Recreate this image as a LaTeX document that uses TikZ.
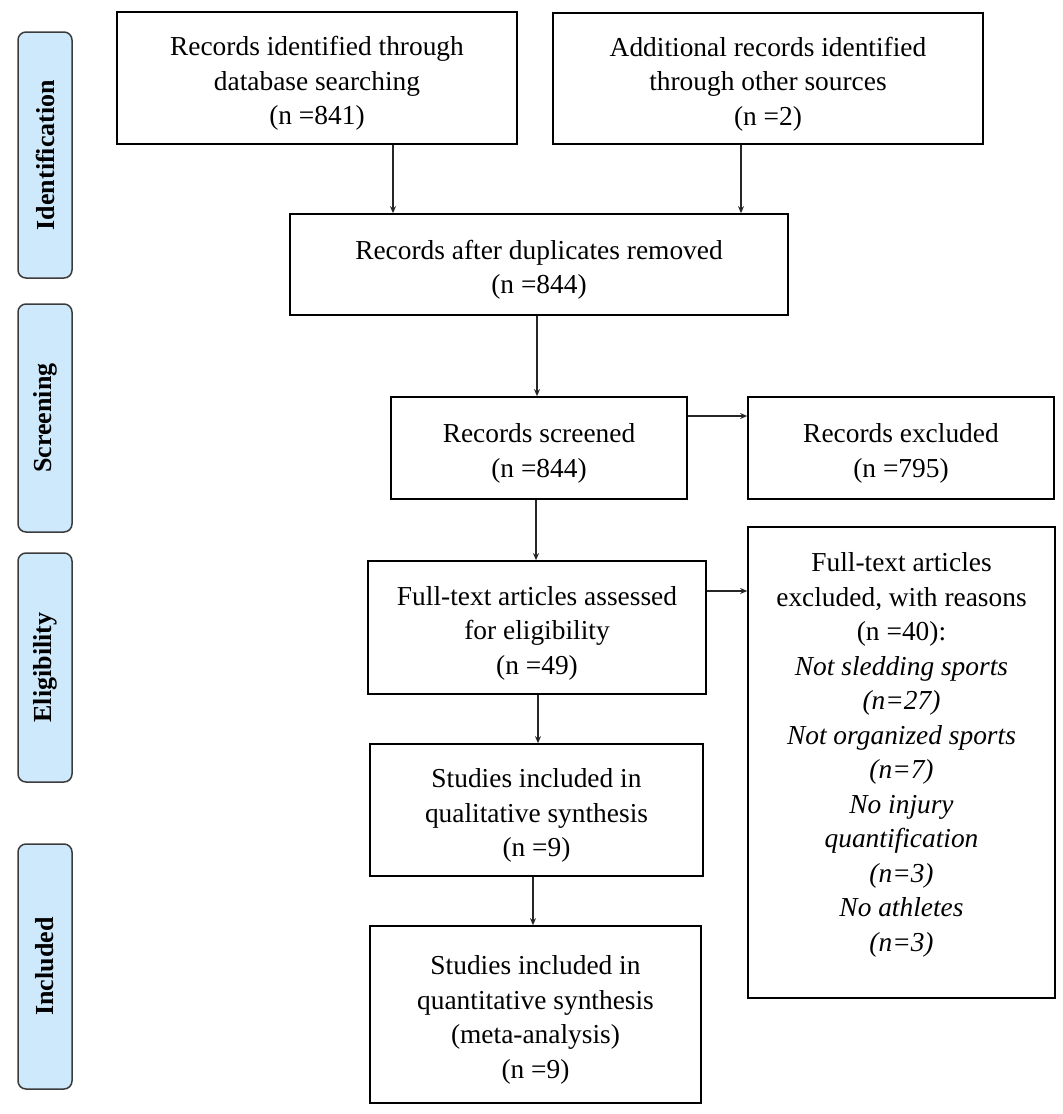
\documentclass[tikz,border=0pt]{standalone}
\usepackage{fontspec}
\setmainfont{Liberation Serif}
\usetikzlibrary{arrows.meta}
\definecolor{sidefill}{RGB}{206,233,251}
\definecolor{sideline}{RGB}{60,60,60}
\newcommand\mytopgap{\rule{0pt}{30pt}}
\begin{document}
\begin{tikzpicture}[x=1pt,y=-1pt,
  box/.style={draw=black, line width=1.7pt, align=center, inner sep=0pt,
    font=\fontsize{27.4}{34.5}\selectfont},
  sidebox/.style={draw=sideline, fill=sidefill, line width=1.5pt, rounded corners=8pt,
    minimum width=54pt, inner sep=0pt},
  sidetext/.style={rotate=90, font=\fontsize{26}{30}\selectfont\bfseries},
  arr/.style={draw=black!85, line width=1.3pt, -{Stealth[length=7pt,width=6pt]}}]
\useasboundingbox (0,0) rectangle (1063,1114);

% side labels
\node[sidebox, minimum height=246pt] (sid) at (45,155) {};
\node[sidetext] (sidt) at (sid.center) {Identification};
\node[sidebox, minimum height=228pt] (sscr) at (45,418) {};
\node[sidetext] (sscrt) at (sscr.center) {Screening};
\node[sidebox, minimum height=229pt] (sel) at (45,667.5) {};
\node[sidetext] (selt) at (sel.center) {Eligibility};
\node[sidebox, minimum height=245pt] (sin) at (45,966.5) {};
\node[sidetext] (sint) at (sin.center) {Included};

% main boxes
\node[box, minimum width=400pt, minimum height=132pt] (db) at (317,78)
  {\mytopgap Records identified through\\database searching\\(n =841)};
\node[box, minimum width=430pt, minimum height=131pt] (oth) at (768,78.5)
  {\mytopgap Additional records identified\\through other sources\\(n =2)};
\node[box, minimum width=498pt, minimum height=101pt] (dup) at (539,264.5)
  {\mytopgap Records after duplicates removed\\(n =844)};
\node[box, minimum width=296pt, minimum height=102pt] (scr) at (539,448)
  {\mytopgap Records screened\\(n =844)};
\node[box, minimum width=306pt, minimum height=102pt] (exc) at (901,448)
  {\mytopgap Records excluded\\(n =795)};
\node[box, minimum width=338pt, minimum height=133pt] (fta) at (537,627.5)
  {\mytopgap Full-text articles assessed\\for eligibility\\(n =49)};
\node[box, minimum width=307pt, minimum height=471pt] (fte) at (901.5,762.5) {};
\node[box, draw=none, anchor=center] (ftet) at (901.5,755)
  {Full-text articles\\excluded, with reasons\\(n =40):\\
   \textit{Not sledding sports}\\\textit{(n=27)}\\
   \textit{Not organized sports}\\\textit{(n=7)}\\
   \textit{No injury}\\\textit{quantification}\\\textit{(n=3)}\\
   \textit{No athletes}\\\textit{(n=3)}};
\node[box, minimum width=333pt, minimum height=132pt] (qual) at (536.5,810)
  {\mytopgap Studies included in\\qualitative synthesis\\(n =9)};
\node[box, minimum width=331pt, minimum height=177pt] (quant) at (535.5,1014.5)
  {\mytopgap Studies included in\\quantitative synthesis\\(meta-analysis)\\(n =9)};

% helper coordinates for connector positions
\coordinate (c1) at (393,0);
\coordinate (c2) at (741,0);
\coordinate (c3) at (537,0);
\coordinate (c4) at (0,416);
\coordinate (c5) at (536,0);
\coordinate (c6) at (0,591);
\coordinate (c7) at (538,0);
\coordinate (c8) at (533,0);

\draw[arr] (db.south -| c1) -- (dup.north -| c1);
\draw[arr] (oth.south -| c2) -- (dup.north -| c2);
\draw[arr] (dup.south -| c3) -- (scr.north -| c3);
\draw[arr] (scr.east |- c4) -- (exc.west |- c4);
\draw[arr] (scr.south -| c5) -- (fta.north -| c5);
\draw[arr] (fta.east |- c6) -- (fte.west |- c6);
\draw[arr] (fta.south -| c7) -- (qual.north -| c7);
\draw[arr] (qual.south -| c8) -- (quant.north -| c8);
\end{tikzpicture}
\end{document}
